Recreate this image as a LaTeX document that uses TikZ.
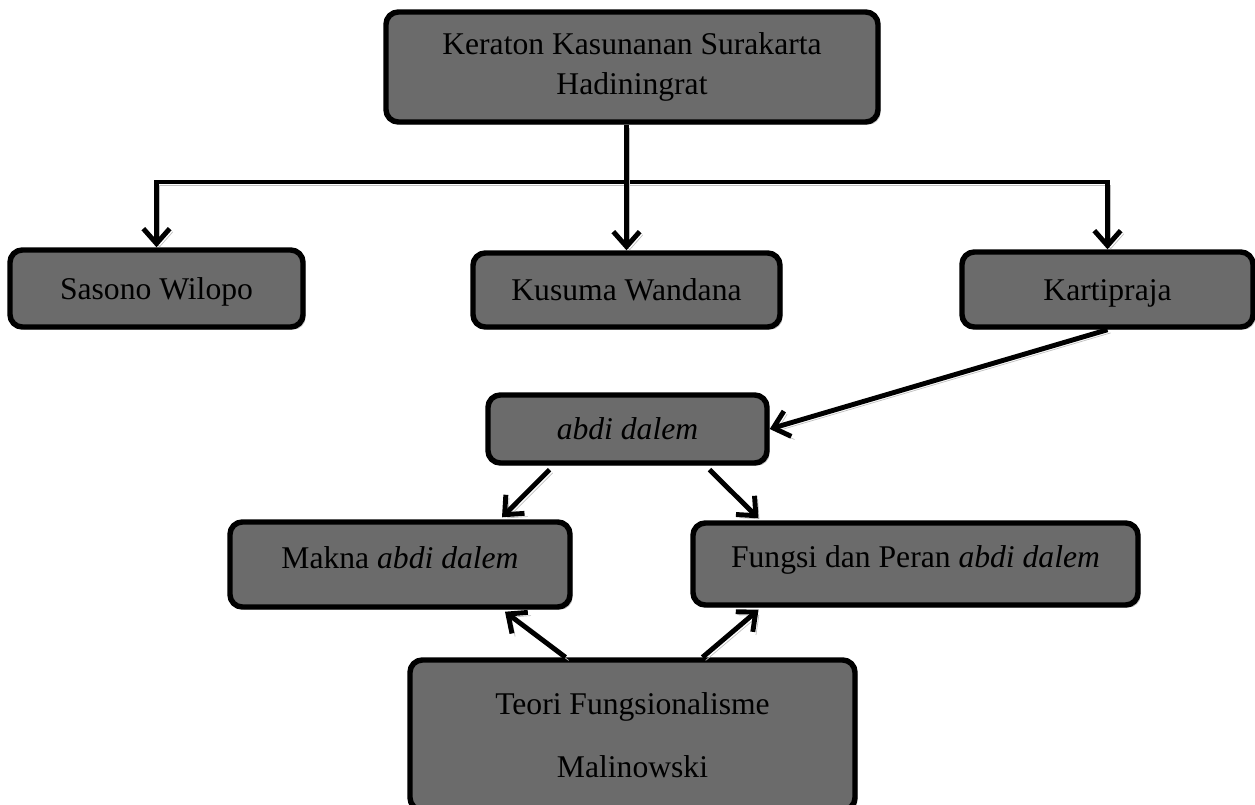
\documentclass[tikz,border=0pt]{standalone}
\usepackage{fontspec}
\setmainfont{Liberation Serif}
\usepackage{tikz}
\usetikzlibrary{arrows.meta}
\usetikzlibrary{shadows}
\definecolor{boxgray}{HTML}{6B6B6B}
\tikzset{
box/.style={draw=black, fill=boxgray, line width=3.1pt, rounded corners=7pt, inner sep=0pt,
  font=\fontsize{18}{22.7}\selectfont, text height=12pt, text depth=0pt,
  drop shadow={shadow xshift=1.5pt, shadow yshift=-1.5pt, fill=gray!50, opacity=1}},
size/.style 2 args={minimum width=#1*0.02cm, minimum height=#2*0.02cm},
conn/.style={line width=2.8pt, draw=black, line join=miter,
  preaction={draw=gray!50, transform canvas={shift={(1.8pt,-1.8pt)}}}},
arrow/.style={conn, -{Straight Barb[length=8.5pt, width=15pt]}}}

\begin{document}
\begin{tikzpicture}[x=0.02cm, y=-0.02cm]
    \useasboundingbox (0,0) rectangle (1255,805);

                \node[box, size={492}{110}, align=center, text height=, text depth=] (keraton) at (632,67) {Keraton Kasunanan Surakarta\\Hadiningrat};
                \node[box, size={293}{77}] (sasono) at (156.5,288.5) {Sasono Wilopo};
                \node[box, size={307}{74}] (kusuma) at (626.5,290) {Kusuma Wandana};
                \node[box, size={291}{75}] (kartipraja) at (1107.5,289.5) {Kartipraja};
                \node[box, size={279}{68}] (abdi) at (627.5,429) {\textit{abdi dalem}};
                \node[box, size={340}{85}, text depth=8pt] (makna) at (400,564.5) {Makna \textit{abdi dalem}};
                \node[box, size={445}{82}, text depth=8pt] (fungsi) at (915.5,564) {Fungsi dan Peran \textit{abdi dalem}};
                \node[box, size={445}{150}, align=center, text height=, text depth=, font=\fontsize{18}{36}\selectfont] (teori) at (632.5,735) {Teori Fungsionalisme\\Malinowski};
                \coordinate (split) at (632,182);

                \draw[arrow, {Straight Barb[length=8.5pt, width=15pt]}-{Straight Barb[length=8.5pt, width=15pt]}] (sasono.north) |- (kartipraja.north |- split) -- (kartipraja.north);
                \draw[arrow] (kusuma.north |- keraton.south) -- (kusuma.north);
                \draw[arrow] (kartipraja.south) -- (abdi.east);
                \draw[arrow] ([shift={(-78,4)}]abdi.south) -- ([shift={(102,-2)}]makna.north);
                \draw[arrow] ([shift={(82,4)}]abdi.south) -- ([shift={(-157,-2)}]fungsi.north);
                \draw[arrow] ([shift={(-67,0)}]teori.north) -- ([shift={(105,2)}]makna.south);
                \draw[arrow] ([shift={(70,0)}]teori.north) -- ([shift={(-157,2)}]fungsi.south);

            \end{tikzpicture}
\end{document}
